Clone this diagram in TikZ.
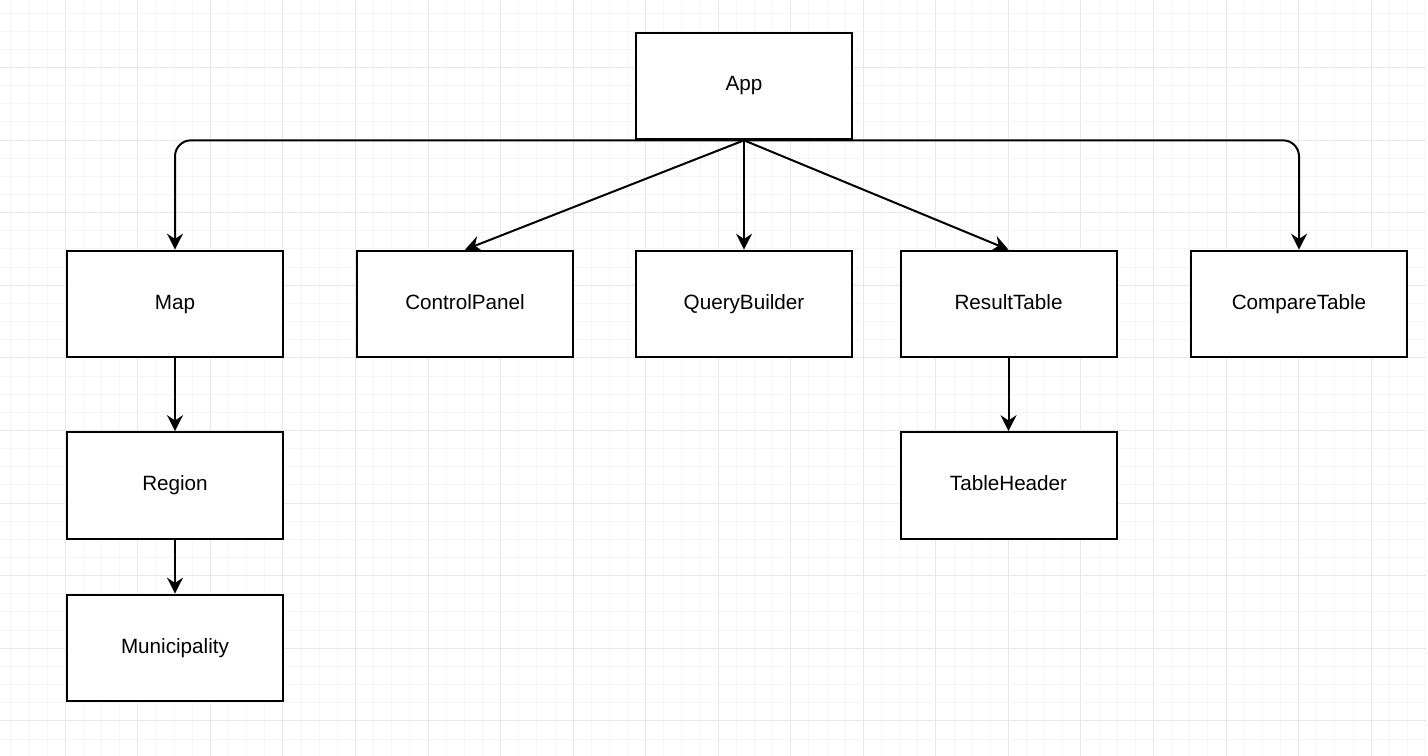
\documentclass[tikz,border=0pt]{standalone}
\usepackage{fontspec}
\setmainfont{Liberation Sans}
\usetikzlibrary{arrows.meta}
\definecolor{gridminor}{HTML}{F5F5F5}
\definecolor{gridmajor}{HTML}{E8E8E8}
\tikzset{
  compbox/.style={draw=black, line width=1.5pt, fill=white, minimum width=162pt, minimum height=80pt, inner sep=0pt, text height=11pt, text depth=3.5pt, font=\fontsize{15.5}{18}\selectfont},
  arr/.style={line width=1.5pt, -{Stealth[length=12pt,width=12pt,inset=4pt]}},
  minorline/.style={gridminor, line width=0.75pt},
  majorline/.style={gridmajor, line width=0.75pt}
}
\begin{document}
\begin{tikzpicture}[x=0.75pt,y=-0.75pt]
\useasboundingbox (0,0) rectangle (1428,756);
\fill[white] (0,0) rectangle (1428,756);
\begin{scope}
\clip (0,0) rectangle (1426,756);
\foreach \i in {-4,...,76} {
  \pgfmathsetmacro\gx{round(64.8+\i*18.1375)+0.5}
  \pgfmathtruncatemacro\m{mod(\i+40,4)}
  \ifnum\m=0\relax
    \draw[majorline] (\gx,0) -- (\gx,756);
  \else
    \draw[minorline] (\gx,0) -- (\gx,756);
  \fi
}
\foreach \j in {-4,...,40} {
  \pgfmathsetmacro\gy{round(67+\j*18.15)+0.5}
  \pgfmathtruncatemacro\m{mod(\j+40,4)}
  \ifnum\m=0\relax
    \draw[majorline] (0,\gy) -- (1426,\gy);
  \else
    \draw[minorline] (0,\gy) -- (1426,\gy);
  \fi
}
\end{scope}

\node[compbox] (app) at (744,86) {App};
\node[compbox] (map) at (175,304) {Map};
\node[compbox] (cp) at (465,304) {ControlPanel};
\node[compbox] (qb) at (744,304) {QueryBuilder};
\node[compbox] (rt) at (1008.5,304) {ResultTable};
\node[compbox] (ct) at (1299,304) {CompareTable};
\node[compbox] (reg) at (175,485.5) {Region};
\node[compbox] (th) at (1008.5,485.5) {TableHeader};
\node[compbox] (mun) at (175,648) {Municipality};

\draw[arr, rounded corners=12pt] (app.south) -| (map.north);
\draw[arr, rounded corners=12pt] (app.south) -| (ct.north);
\draw[arr] (app.south) -- (cp.north);
\draw[arr] (app.south) -- (qb.north);
\draw[arr] (app.south) -- (rt.north);
\draw[arr] (map.south) -- (reg.north);
\draw[arr] (reg.south) -- (mun.north);
\draw[arr] (rt.south) -- (th.north);
\end{tikzpicture}
\end{document}
